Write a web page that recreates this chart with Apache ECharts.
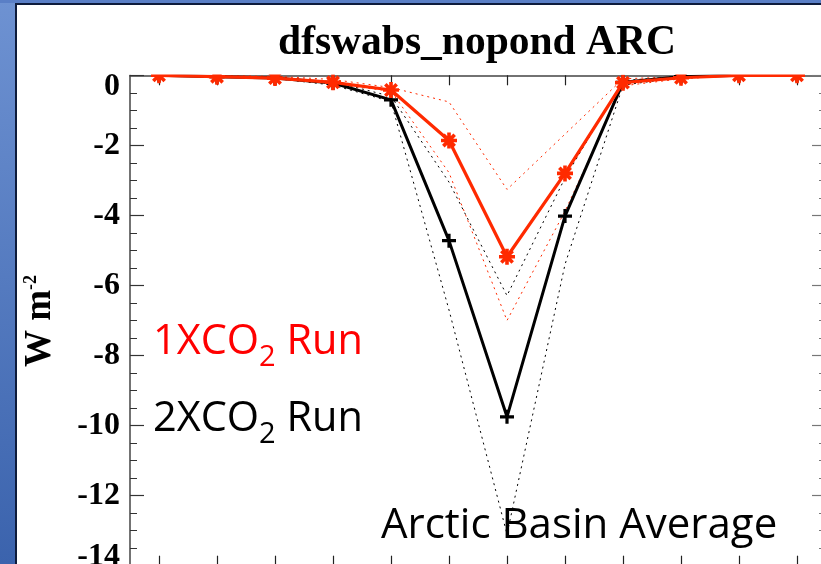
<!DOCTYPE html>
<html>
<head>
<meta charset="utf-8">
<script src="https://cdn.jsdelivr.net/npm/echarts@6/dist/echarts.min.js"></script>
<style>
  html, body { margin: 0; padding: 0; background: #ffffff; }
  #chart { width: 821px; height: 564px; }
</style>
</head>
<body>
<div id="chart"></div>
<script>
// ---- data ----
const months = ['Jan','Feb','Mar','Apr','May','Jun','Jul','Aug','Sep','Oct','Nov','Dec'];
const yTickStep = 2;
const yMin = -14;
const yMax = 0;

// 1xCO2 run (red, asterisks) and its spread (red dotted)
const run1x      = [0.0, -0.04, -0.08, -0.2, -0.42, -1.86, -5.18, -2.8, -0.21, -0.07, 0.0, 0.0];
const run1xHigh  = [0.0, -0.01, -0.03, -0.12, -0.35, -0.76, -3.26, -1.68, -0.10, -0.04, 0.0, 0.0];
const run1xLow   = [0.0, -0.04, -0.09, -0.25, -0.45, -2.78, -7.0, -3.88, -0.30, -0.10, 0.0, 0.0];

// 2xCO2 run (black, plus signs) and its spread (black dotted)
const run2x      = [0.0, -0.04, -0.08, -0.22, -0.70, -4.72, -9.75, -4.02, -0.20, -0.04, 0.0, 0.0];
const run2xHigh  = [0.0, -0.02, -0.05, -0.18, -0.60, -3.05, -6.29, -2.93, -0.15, -0.03, 0.0, 0.0];
const run2xLow   = [0.0, -0.04, -0.09, -0.28, -0.75, -6.70, -13.1, -5.40, -0.28, -0.06, 0.0, 0.0];

const titleText = 'dfswabs_nopond ARC';

// ---- styles ----
const RED = '#ff2a00';
const STAR = 'path://M10,0L10,20M0,10L20,10M2.9,2.9L17.1,17.1M2.9,17.1L17.1,2.9';
const PLUS = 'path://M10,0L10,20M0,10L20,10';
const serif = '"Liberation Serif", "Times New Roman", serif';
const sans = '"Open Sans", "Lato", sans-serif';

const chart = echarts.init(document.getElementById('chart'), null, { renderer: 'canvas' });

function dotted(data, color) {
  return {
    type: 'line', data: data, symbol: 'none', clip: false, silent: true,
    lineStyle: { color: color, width: 1, type: [2, 4] }, z: 2
  };
}

const xAxisBase = {
  type: 'category', data: months, boundaryGap: true,
  axisLine: { show: true, onZero: false, lineStyle: { color: '#444', width: 1.5 } },
  axisTick: { show: true, inside: true, alignWithLabel: true, length: 10, lineStyle: { color: '#222', width: 1.2 } },
  axisLabel: { show: false }, splitLine: { show: false }
};
const yAxisBase = {
  type: 'value', min: yMin, max: yMax, interval: yTickStep,
  axisLine: { show: true, onZero: false, lineStyle: { color: '#444', width: 1.5 } },
  axisTick: { show: true, inside: true, length: 14, lineStyle: { color: '#333', width: 1.2 } },
  minorTick: { show: true, splitNumber: 4, length: 7, lineStyle: { color: '#333', width: 1 } },
  splitLine: { show: false }
};

const option = {
  backgroundColor: '#ffffff',
  animation: false,
  grid: { left: 130, top: 75.3, width: 696, height: 490.4, containLabel: false, outerBoundsMode: 'none' },
  xAxis: [
    Object.assign({}, xAxisBase, { position: 'bottom' }),
    Object.assign({}, xAxisBase, { position: 'top' })
  ],
  yAxis: [
    Object.assign({}, yAxisBase, {
      position: 'left',
      axisLabel: {
        show: true, margin: 10, color: '#000',
        fontFamily: serif, fontWeight: 'bold', fontSize: 32,
        formatter: function (v) {
          if (v === yMax) return '{t|' + v + '}';
          if (v === yMin) return '{b|' + v + '}';
          return '{n|' + v + '}';
        },
        rich: {
          n: { fontFamily: serif, fontWeight: 'bold', fontSize: 32, color: '#000' },
          t: { fontFamily: serif, fontWeight: 'bold', fontSize: 32, color: '#000', padding: [22, 0, 0, 0] },
          b: { fontFamily: serif, fontWeight: 'bold', fontSize: 32, color: '#000', padding: [0, 0, 18, 0] }
        }
      }
    }),
    Object.assign({}, yAxisBase, {
      position: 'right', axisLabel: { show: false },
      axisTick: { show: true, inside: true, length: 14, lineStyle: { color: '#777', width: 1.2 } },
      minorTick: { show: true, splitNumber: 4, length: 7, lineStyle: { color: '#777', width: 1 } }
    })
  ],
  series: [
    dotted(run2xLow, '#000'),
    dotted(run2xHigh, '#000'),
    dotted(run1xHigh, RED),
    dotted(run1xLow, RED),
    {
      type: 'line', data: run2x, clip: false, silent: true, z: 3,
      symbol: PLUS, symbolSize: 14,
      itemStyle: { color: '#000', borderColor: '#000', borderWidth: 3.2 },
      lineStyle: { color: '#000', width: 3 }
    },
    {
      type: 'line', data: run1x, clip: false, silent: true, z: 4,
      symbol: STAR, symbolSize: 16,
      itemStyle: { color: RED, borderColor: RED, borderWidth: 3.6 },
      lineStyle: { color: RED, width: 3.2 }
    }
  ],
  graphic: [
    // blue slide frame
    { type: 'rect', z: 100, silent: true, shape: { x: 0, y: 0, width: 15, height: 564 },
      style: { fill: new echarts.graphic.LinearGradient(0, 0, 0, 1, [
        { offset: 0, color: '#6e92d2' }, { offset: 1, color: '#3b63ad' }]) } },
    { type: 'rect', z: 100, silent: true, shape: { x: 0, y: 0, width: 821, height: 3 },
      style: { fill: '#5a7fc6' } },
    { type: 'line', z: 101, silent: true, shape: { x1: 16, y1: 3, x2: 16, y2: 564 },
      style: { stroke: '#0e1c3c', lineWidth: 2 } },
    { type: 'line', z: 101, silent: true, shape: { x1: 15, y1: 4, x2: 821, y2: 4 },
      style: { stroke: '#0e1c3c', lineWidth: 2 } },
    // white mask clipping marks above the plot frame
    { type: 'rect', z: 90, silent: true, shape: { x: 128, y: 5, width: 700, height: 69.6 },
      style: { fill: '#ffffff' } },
    // title
    { type: 'text', z: 110, silent: true, x: 477, y: 43,
      style: { text: titleText, fill: '#000', font: 'bold 41.5px ' + serif, align: 'center', verticalAlign: 'middle' } },
    // y axis name
    { type: 'text', z: 110, silent: true, x: 40, y: 321, rotation: Math.PI / 2,
      style: { text: '{a|W m}{s|-2}', align: 'center', verticalAlign: 'middle',
        rich: {
          a: { font: 'bold 37px ' + serif, fill: '#000', lineHeight: 38 },
          s: { font: 'bold 18px ' + serif, fill: '#000', padding: [0, 0, 18, 0] }
        } } },
    // annotations
    { type: 'text', z: 110, silent: true, x: 153, y: 342,
      style: { text: '{a|1XCO}{s|2}{a| Run}', align: 'left', verticalAlign: 'middle',
        rich: {
          a: { font: '41.5px ' + sans, fill: '#ff0000', lineHeight: 44 },
          s: { font: '29px ' + sans, fill: '#ff0000', padding: [32, 0, 0, 0] }
        } } },
    { type: 'text', z: 110, silent: true, x: 153, y: 419,
      style: { text: '{a|2XCO}{s|2}{a| Run}', align: 'left', verticalAlign: 'middle',
        rich: {
          a: { font: '41.5px ' + sans, fill: '#000', lineHeight: 44 },
          s: { font: '29px ' + sans, fill: '#000', padding: [32, 0, 0, 0] }
        } } },
    { type: 'text', z: 110, silent: true, x: 381, y: 526,
      style: { text: 'Arctic Basin Average', fill: '#000', font: '42px ' + sans, align: 'left', verticalAlign: 'middle' } }
  ]
};

chart.setOption(option);
</script>
</body>
</html>
